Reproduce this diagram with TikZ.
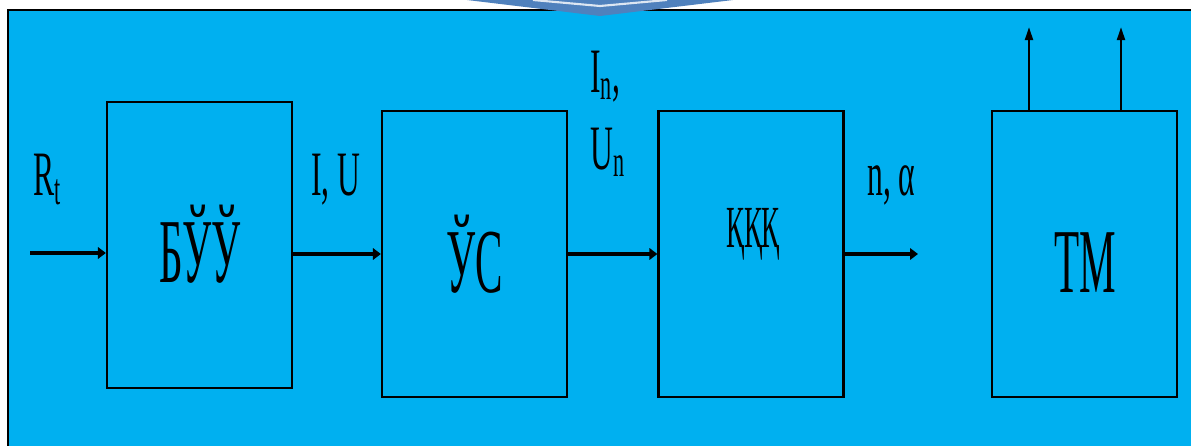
\documentclass[tikz,border=0pt]{standalone}
\usepackage{fontspec}
\usepackage{xcolor}
\usetikzlibrary{arrows.meta}
\newfontfamily\cnd[FakeStretch=0.45]{Liberation Serif}
\newfontfamily\cndlab[FakeStretch=0.5]{Liberation Serif}
\definecolor{DGCyan}{HTML}{00B0F0}
\definecolor{DGTab}{HTML}{4F81BD}
\definecolor{DGTabLine}{HTML}{DCE6F2}
\begin{document}
\begin{tikzpicture}[x=0.02cm,y=-0.02cm,
  blk/.style={draw=black,line width=1.3pt,minimum width=3.7cm,minimum height=5.72cm,inner sep=0pt},
  lab/.style={inner sep=0pt,font=\cndlab\fontsize{36pt}{40pt}\selectfont},
  big/.style={inner sep=0pt,font=\cnd\fontsize{52pt}{56pt}\selectfont},
  arr/.style={line width=2.7pt,-{Triangle[length=4.5pt,width=6.5pt]}},
  uparr/.style={line width=1.4pt,-{Triangle[length=7.5pt,width=4.5pt]}}]
\path[use as bounding box] (0,0) rectangle (1191,446);
\fill[white] (0,0) rectangle (1191,446);
\fill[DGCyan] (8,10) rectangle (1191,446);
\draw[black,line width=1pt] (8,446) -- (8,10) -- (1191,10);
\fill[DGTab] (467,0) -- (733,0) -- (600,16) -- cycle;
\draw[DGTabLine,line width=1.2pt] (533,0) -- (600,6) -- (667,0);
\node[blk] (buu) at (199.5,245) {};
\node[blk] (us) at (474.5,254) {};
\node[blk] (kkk) at (751,254) {};
\node[blk] (tm) at (1084.5,254) {};
\node[big,anchor=base] (buut) at (200,282) {БЎЎ};
\node[big,anchor=base] (ust) at (475,292) {ЎС};
\node[inner sep=0pt,anchor=base,font=\cnd\fontsize{34pt}{38pt}\selectfont] (kkkt) at (753,247) {ҚҚҚ};
\node[big,anchor=base] (tmt) at (1085,292) {ТМ};
\node[lab,anchor=base west] (rt) at (33,195) {R\textsubscript{t}};
\node[lab,anchor=base west] (iu) at (311,195) {I, U};
\node[lab,anchor=base west] (inn) at (590,93) {I\textsubscript{n},};
\node[lab,anchor=base west] (un) at (590,170) {U\textsubscript{n}};
\node[lab,anchor=base west] (na) at (867,195) {n, α};
\coordinate (rin) at (30,253);
\coordinate (nout) at (918,254);
\coordinate (t1) at (1029,27);
\coordinate (t2) at (1121,27);
\draw[arr] (rin) -- (rin -| buu.west);
\draw[arr] (buu.east |- us.west) -- (us.west);
\draw[arr] (us.east) -- (kkk.west);
\draw[arr] (kkk.east) -- (nout);
\draw[uparr] (tm.north -| t1) -- (t1);
\draw[uparr] (tm.north -| t2) -- (t2);
\end{tikzpicture}
\end{document}
